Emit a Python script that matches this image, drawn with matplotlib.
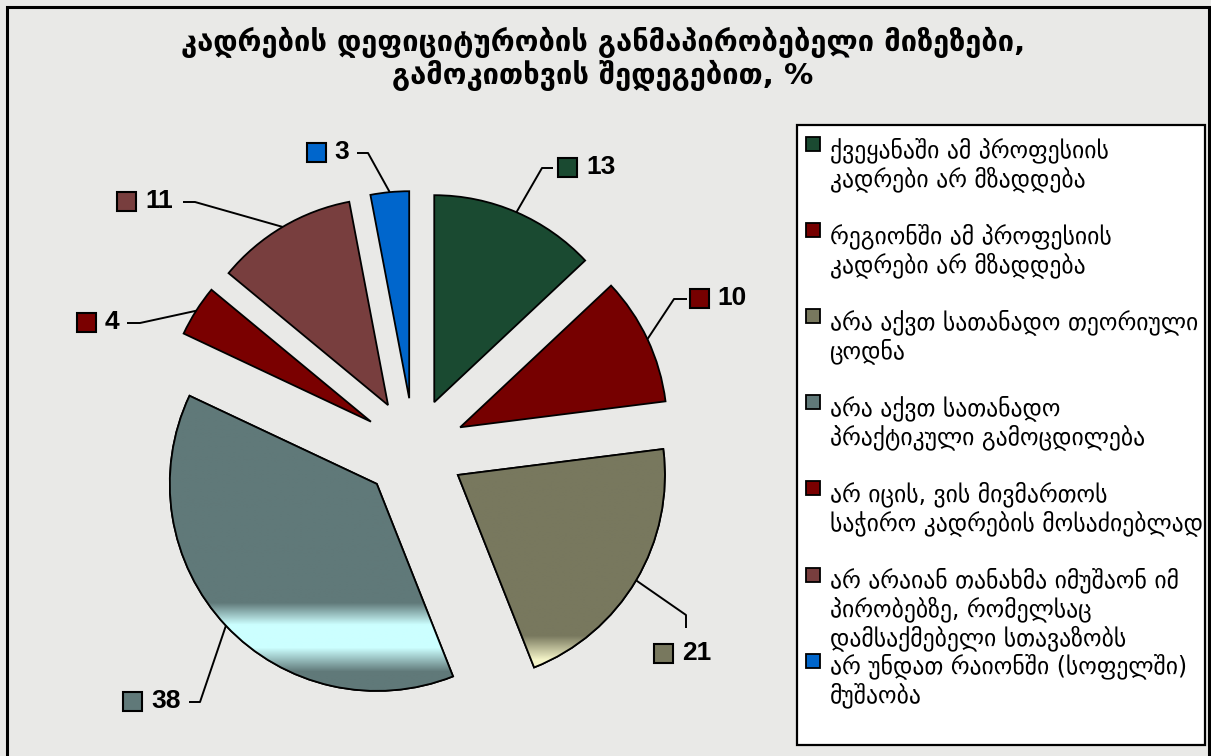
import math
import numpy as np
import matplotlib
matplotlib.use("Agg")
import matplotlib.pyplot as plt
from matplotlib.patches import Rectangle, Wedge

# ---------------- data ----------------
values = [13, 10, 21, 38, 4, 11, 3]
value_labels = ["13", "10", "21", "38", "4", "11", "3"]
categories = [
    "ქვეყანაში ამ პროფესიის\nკადრები არ მზადდება",
    "რეგიონში ამ პროფესიის\nკადრები არ მზადდება",
    "არა აქვთ სათანადო თეორიული\nცოდნა",
    "არა აქვთ სათანადო\nპრაქტიკული გამოცდილება",
    "არ იცის, ვის მივმართოს\nსაჭირო კადრების მოსაძიებლად",
    "არ არაიან თანახმა იმუშაონ იმ\nპირობებზე, რომელსაც\nდამსაქმებელი სთავაზობს",
    "არ უნდათ რაიონში (სოფელში)\nმუშაობა",
]
colors = ["#1a4a31", "#760000", "#78785e", "#607979", "#7a0000", "#783e3e", "#0066cc"]
title_lines = ["კადრების დეფიციტურობის განმაპირობებელი მიზეზები,",
               "გამოკითხვის შედეგებით, %"]

# ---------------- layout ----------------
W, H = 1211, 756
def P(x, y):
    """image pixel coords (y down) -> axes data coords (y up)"""
    return (x, H - y)

fig = plt.figure(figsize=(W / 100, H / 100), dpi=100)
bg = "#e9e9e7"
fig.patch.set_facecolor(bg)
ax = fig.add_axes([0, 0, 1, 1])
ax.set_facecolor(bg)

R = 207
cx, cy = P(414, 449)
wedges, _ = ax.pie(values, colors=colors, startangle=90, counterclock=False,
                   radius=R, center=(cx, cy), explode=[51] * len(values),
                   wedgeprops=dict(edgecolor="black", linewidth=1.3))
ax.set_xlim(0, W)
ax.set_ylim(0, H)
ax.set_aspect("auto")
ax.axis("off")

# gradient highlights (38 slice cyan band, 21 slice light tip)
def gradient_fill(w, ys, cols, zorder):
    x0, y0 = w.center[0] - R - 2, w.center[1] - R - 2
    x1, y1 = w.center[0] + R + 2, w.center[1] + R + 2
    n = 400
    yy = np.linspace(y1, y0, n)  # top row first
    yimg = H - yy
    rgb = np.zeros((n, 1, 3))
    cols = np.array([matplotlib.colors.to_rgb(c) for c in cols])
    for k in range(3):
        rgb[:, 0, k] = np.interp(yimg, ys, cols[:, k])
    im = ax.imshow(rgb, extent=(x0, x1, y0, y1), aspect="auto",
                   interpolation="bilinear", zorder=zorder)
    im.set_clip_path(w)
    outline = Wedge(w.center, w.r, w.theta1, w.theta2, facecolor="none",
                    edgecolor="black", linewidth=1.3, zorder=zorder + 0.1)
    ax.add_patch(outline)
    ax.set_xlim(0, W)
    ax.set_ylim(0, H)

base38 = colors[3]
gradient_fill(wedges[3], [0, 603, 625, 648, 672, 800],
              [base38, base38, "#ccffff", "#ccffff", base38, base38], 2)
base21 = colors[2]
gradient_fill(wedges[2], [0, 636, 660, 800],
              [base21, base21, "#f4f4c8", "#f4f4c8"], 2)

# ---------------- data labels with leader lines ----------------
label_layout = [
    dict(sq=(567, 167), tx=586, elbow=(542, 168), stub=(553, 168)),
    dict(sq=(699, 298), tx=717, elbow=(674, 299), stub=(687, 299)),
    dict(sq=(663, 653), tx=682, elbow=(686, 615), stub=(686, 628)),
    dict(sq=(132, 701), tx=151, elbow=(200, 702), stub=(189, 702)),
    dict(sq=(86, 322), tx=105, elbow=(140, 323), stub=(127, 323)),
    dict(sq=(126, 201), tx=145, elbow=(195, 202), stub=(183, 202)),
    dict(sq=(316, 152), tx=334, elbow=(368, 153), stub=(357, 153)),
]
sq = 19
for w, lab, col, lay in zip(wedges, value_labels, colors, label_layout):
    tm = math.radians((w.theta1 + w.theta2) / 2)
    ax_, ay_ = w.center[0] + w.r * math.cos(tm), w.center[1] + w.r * math.sin(tm)
    ex, ey = P(*lay["elbow"])
    sx, sy = P(*lay["stub"])
    ax.plot([ax_, ex, sx], [ay_, ey, sy], color="black", lw=1.4, zorder=5,
            solid_capstyle="butt")
    qx, qy = P(*lay["sq"])
    ax.add_patch(Rectangle((qx - sq / 2, qy - sq / 2), sq, sq, facecolor=col,
                           edgecolor="black", lw=1.5, zorder=6))
    tx, ty = P(lay["tx"], lay["sq"][1])
    ax.text(tx, ty, lab, fontsize=19, fontweight="bold", family="Liberation Sans",
            ha="left", va="center", color="black", zorder=6)

# ---------------- title ----------------
for t, yy in zip(title_lines, [42, 75]):
    tx, ty = P(603, yy)
    ax.text(tx, ty, t, fontsize=21, fontweight="bold", family="DejaVu Sans",
            ha="center", va="center", color="black")

# ---------------- legend ----------------
lx0, ly0, lx1, ly1 = 797, 125, 1205, 745
ax.add_patch(Rectangle((lx0, H - ly1), lx1 - lx0, ly1 - ly0, facecolor="white",
                       edgecolor="black", lw=1.6, zorder=3))
line_h = 28.7
first_y = 150
line_idx = 0
for col, cat in zip(colors, categories):
    ylines = cat.split("\n")
    y = first_y + line_idx * line_h
    mx, my = P(813, y - 6)
    ax.add_patch(Rectangle((mx - 7, my - 7), 14, 14, facecolor=col,
                           edgecolor="black", lw=1.3, zorder=4))
    for k, t in enumerate(ylines):
        px, py = P(830, y + k * line_h)
        ax.text(px, py, t, fontsize=17, family="DejaVu Sans", ha="left",
                va="center", color="black", zorder=4)
    line_idx += len(ylines) + (1 if len(ylines) < 3 else 0)

# ---------------- outer frame ----------------
ax.add_patch(Rectangle((7, -10), 1202, H - 7 + 10, facecolor="none",
                       edgecolor="black", lw=2.2, zorder=10))

fig.savefig("out.png", dpi=100, facecolor=fig.get_facecolor())
